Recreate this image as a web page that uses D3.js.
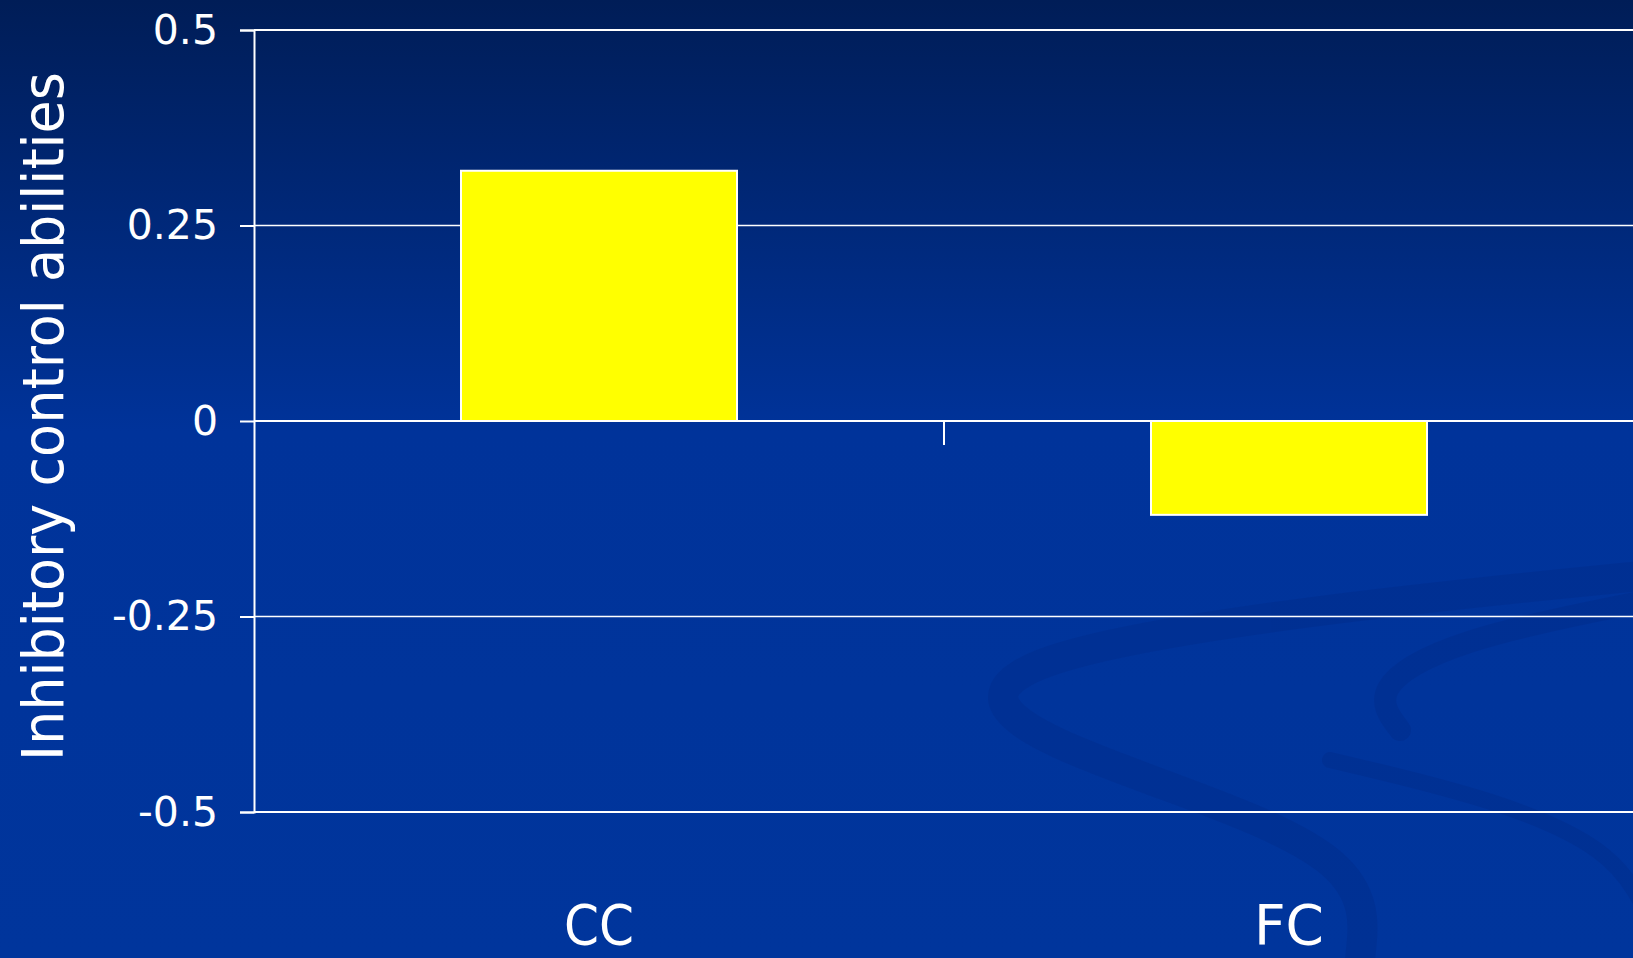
<!DOCTYPE html>
<html>
<head>
<meta charset="utf-8">
<script src="https://cdn.jsdelivr.net/npm/d3@7"></script>
<style>
  html, body { margin: 0; padding: 0; background: #00339a; overflow: hidden; }
  svg { display: block; }
</style>
</head>
<body>
<svg id="chart" width="1633" height="958"></svg>
<script>
// ---- data ----
const categories = ["CC", "FC"];
const values = [0.32, -0.12];
const yTicks = [-0.5, -0.25, 0, 0.25, 0.5];
const yTickLabels = ["-0.5", "-0.25", "0", "0.25", "0.5"];
const yTitle = "Inhibitory control abilities";

// ---- layout ----
const W = 1633, H = 958;
const svg = d3.select("#chart");
const defs = svg.append("defs");
const grad = defs.append("linearGradient").attr("id", "bg").attr("x1", 0).attr("y1", 0).attr("x2", 0).attr("y2", 1);
grad.append("stop").attr("offset", "0%").attr("stop-color", "#001d57");
grad.append("stop").attr("offset", "45%").attr("stop-color", "#00339a");
grad.append("stop").attr("offset", "100%").attr("stop-color", "#00359c");
svg.append("rect").attr("width", W).attr("height", H).attr("fill", "url(#bg)");

// decorative swirls (background motif)
const deco = svg.append("g").attr("fill", "none").attr("stroke", "#002a86").attr("stroke-linecap", "round").attr("opacity", 0.35);
const swirl = d3.line().curve(d3.curveBasis);
deco.append("path").attr("stroke-width", 30).attr("d", swirl([[1650,575],[1300,610],[1000,660],[990,720],[1150,780],[1370,860],[1360,960]]));
deco.append("path").attr("stroke-width", 22).attr("d", swirl([[1650,600],[1450,640],[1370,690],[1400,730]]));
deco.append("path").attr("stroke-width", 16).attr("d", swirl([[1330,760],[1500,800],[1610,850],[1640,900]]));

const plotLeft = 254, plotRight = 1634, plotTop = 30, plotBottom = 812;

const y = d3.scaleLinear().domain([-0.5, 0.5]).range([plotBottom, plotTop]);
const x = d3.scaleBand().domain(categories).range([plotLeft, plotRight]).padding(0);
const bw = x.bandwidth();

// gridlines
svg.append("g").selectAll("line").data(yTicks).join("line")
  .attr("x1", plotLeft).attr("x2", plotRight)
  .attr("y1", d => y(d)).attr("y2", d => y(d))
  .attr("stroke", "#ffffff")
  .attr("stroke-width", d => (d === 0.5 || d === -0.5) ? 2 : 1.3);

// bars
svg.append("g").selectAll("rect").data(categories).join("rect")
  .attr("x", (c) => x(c) + bw * 0.3)
  .attr("width", bw * 0.4)
  .attr("y", (c, i) => y(Math.max(0, values[i])))
  .attr("height", (c, i) => Math.abs(y(values[i]) - y(0)))
  .attr("fill", "#ffff00")
  .attr("stroke", "#ffffff")
  .attr("stroke-width", 2);

// zero (category) axis line with band-boundary ticks
svg.append("line").attr("x1", plotLeft).attr("x2", plotRight)
  .attr("y1", y(0)).attr("y2", y(0)).attr("stroke", "#ffffff").attr("stroke-width", 2);
svg.append("g").selectAll("line").data(categories.slice(1)).join("line")
  .attr("x1", c => x(c)).attr("x2", c => x(c))
  .attr("y1", y(0)).attr("y2", y(0) + 24)
  .attr("stroke", "#ffffff").attr("stroke-width", 2);

// y axis
const yAxis = d3.axisLeft(y).tickValues(yTicks)
  .tickFormat((d, i) => yTickLabels[i]).tickSize(14).tickPadding(22);
const gy = svg.append("g").attr("transform", `translate(${plotLeft},0)`).call(yAxis);
gy.select(".domain").attr("stroke", "#ffffff").attr("stroke-width", 2);
gy.selectAll(".tick line").attr("stroke", "#ffffff").attr("stroke-width", 2);
gy.selectAll(".tick text")
  .attr("fill", "#ffffff")
  .attr("font-family", "'DejaVu Sans', sans-serif")
  .attr("font-size", 41);

// category labels
svg.append("g").selectAll("text").data(categories).join("text")
  .attr("x", c => x(c) + bw / 2)
  .attr("y", 944)
  .attr("text-anchor", "middle")
  .attr("fill", "#ffffff")
  .attr("font-family", "'DejaVu Sans', sans-serif")
  .attr("font-size", 55)
  .attr("textLength", 70)
  .attr("lengthAdjust", "spacingAndGlyphs")
  .text(c => c);

// y title
svg.append("text")
  .attr("transform", `translate(63, ${(72 + 761) / 2}) rotate(-90)`)
  .attr("text-anchor", "middle")
  .attr("fill", "#ffffff")
  .attr("font-family", "'DejaVu Sans', sans-serif")
  .attr("font-size", 57)
  .attr("textLength", 689)
  .attr("lengthAdjust", "spacingAndGlyphs")
  .text(yTitle);
</script>
</body>
</html>
